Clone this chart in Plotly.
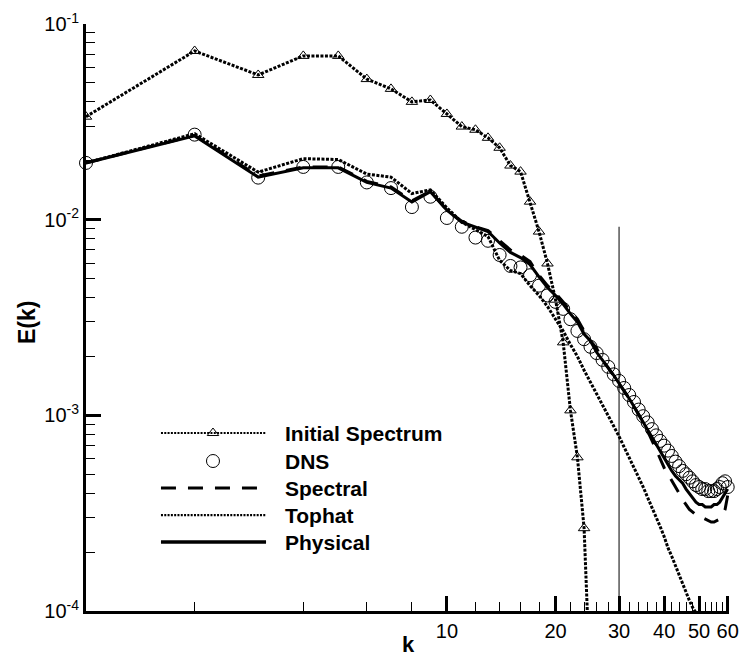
import numpy as np
import plotly.graph_objects as go

# ---------------- data ----------------
k_init = list(range(1, 26))
E_init = [0.0336, 0.0728, 0.0549, 0.0687, 0.0687, 0.0523, 0.0466, 0.0400, 0.0409, 0.0347,
          0.0299, 0.0288, 0.0262, 0.0233, 0.0189, 0.0176, 0.01236, 0.00869, 0.00597, 0.0039,
          0.00236, 0.00106, 0.00061, 0.000265, 0.000038]

k_dns = list(range(1, 62))
E_dns = [0.0195, 0.0272, 0.0164, 0.0186, 0.0186, 0.0155, 0.0145, 0.0116, 0.0131, 0.0102,
         0.0092, 0.0081, 0.0078, 0.0066, 0.0058, 0.0057, 0.0052, 0.0046, 0.0041, 0.0038,
         0.0035, 0.0031, 0.0027, 0.00245, 0.00224, 0.00208, 0.00192, 0.00177, 0.00162, 0.00150,
         0.00138, 0.00127, 0.00117, 0.00107, 0.00099, 0.00092, 0.00085, 0.00079, 0.00074, 0.00070,
         0.00066, 0.00062, 0.00058, 0.00055, 0.00052, 0.00050, 0.00048, 0.00046, 0.00044, 0.00043,
         0.00042, 0.00042, 0.00041, 0.00041, 0.00041, 0.00042, 0.00043, 0.00045, 0.00046, 0.00043,
         0.00038]

k_model = list(range(1, 61))
E_spectral = [0.0195, 0.0270, 0.0167, 0.0186, 0.0186, 0.0157, 0.0147, 0.0125, 0.0140, 0.0112,
              0.0098, 0.0092, 0.0088, 0.0078, 0.0070, 0.0066, 0.0061, 0.0052, 0.0046, 0.0042,
              0.0038, 0.0034, 0.0031, 0.0027, 0.0024, 0.0022, 0.0019, 0.00175, 0.0016, 0.00146,
              0.00133, 0.00122, 0.00111, 0.00101, 0.00092, 0.00083, 0.00075, 0.00067, 0.00060, 0.00054,
              0.00050, 0.00046, 0.00043, 0.00040, 0.00037, 0.00035, 0.00033, 0.00032, 0.00031, 0.00030,
              0.000300, 0.000295, 0.00029, 0.000285, 0.000285, 0.00029, 0.000295, 0.00031, 0.00033, 0.00039]

E_tophat = [0.0195, 0.0275, 0.0175, 0.0205, 0.0203, 0.0171, 0.0165, 0.0136, 0.0142, 0.0115,
            0.0097, 0.0089, 0.0082, 0.0062, 0.0055, 0.0053, 0.0046, 0.0041, 0.0036, 0.0031,
            0.0027, 0.0023, 0.0020, 0.00170, 0.00148, 0.00128, 0.00112, 0.00099, 0.00088, 0.00078,
            0.00069, 0.00061, 0.00054, 0.00048, 0.00043, 0.00038, 0.00034, 0.00030, 0.00027, 0.00024,
            0.00021, 0.00019, 0.00017, 0.000155, 0.00014, 0.000125, 0.000113, 0.000104, 0.000098, 0.000090,
            0.000082, 0.000075, 0.000068, 0.000062, 0.000056, 0.000051, 0.000046, 0.000042, 0.000038, 0.000034]

E_physical = [0.0195, 0.0268, 0.0165, 0.0184, 0.0184, 0.0155, 0.0145, 0.0123, 0.0139, 0.0112,
              0.0097, 0.0092, 0.0087, 0.0076, 0.0068, 0.0064, 0.0059, 0.0051, 0.0045, 0.0041,
              0.0037, 0.0033, 0.0030, 0.0026, 0.0024, 0.0021, 0.0019, 0.00175, 0.0016, 0.00146,
              0.00133, 0.00122, 0.00111, 0.00101, 0.00093, 0.00085, 0.00078, 0.00071, 0.00065, 0.00060,
              0.00056, 0.00052, 0.00049, 0.00047, 0.00045, 0.00042, 0.00040, 0.00038, 0.00036, 0.00035,
              0.00035, 0.00034, 0.00034, 0.00034, 0.00035, 0.00035, 0.00036, 0.00038, 0.00040, 0.00042]

cutoff_k = [30, 30]
cutoff_E = [1e-4, 0.0092]

x_tick_vals = [10, 20, 30, 40, 50, 60]
x_tick_text = ["10", "20", "30", "40", "50", "60"]
x_minor_vals = [2, 4, 6, 8, 12, 14, 16, 18, 22, 24, 26, 28, 32, 34, 36, 38,
                42, 44, 46, 48, 52, 54, 56, 58]
y_tick_vals = [1e-4, 1e-3, 1e-2, 1e-1]
y_tick_text = ["10<sup>-4</sup>", "10<sup>-3</sup>", "10<sup>-2</sup>", "10<sup>-1</sup>"]
y_minor_vals = [m * 10.0 ** e for e in (-4, -3, -2) for m in range(2, 10)]

legend_names = ["Initial Spectrum", "DNS", "Spectral", "Tophat", "Physical"]

# ---------------- styles ----------------
FONT = "Liberation Sans, Arial, sans-serif"
DOT = "3px,1.5px"
LDOT = "2px,1.3px"
DASH = "15px,12px"

fig = go.Figure()

fig.add_trace(go.Scatter(x=cutoff_k, y=cutoff_E, mode="lines",
                         line=dict(color="black", width=1), showlegend=False))
fig.add_trace(go.Scatter(x=k_model, y=E_tophat, mode="lines",
                         line=dict(color="black", width=3, dash=DOT), showlegend=False))
fig.add_trace(go.Scatter(x=k_model, y=E_spectral, mode="lines",
                         line=dict(color="black", width=3, dash=DASH), showlegend=False))
fig.add_trace(go.Scatter(x=k_model, y=E_physical, mode="lines",
                         line=dict(color="black", width=3), showlegend=False))
fig.add_trace(go.Scatter(x=k_dns, y=E_dns, mode="markers", cliponaxis=False,
                         marker=dict(symbol="circle-open", size=13, color="black",
                                     line=dict(width=1, color="black")),
                         showlegend=False))
fig.add_trace(go.Scatter(x=k_init, y=E_init, mode="lines+markers",
                         line=dict(color="black", width=3, dash=DOT),
                         marker=dict(symbol="triangle-up-open", size=10, color="black",
                                     line=dict(width=1, color="black")),
                         showlegend=False))

# ---------------- custom legend (overlay axes in [0,1]) ----------------
lx0, lx1, lmid, ltext = 0.1166, 0.280, 0.1975, 0.3064
rows = [0.3032, 0.2555, 0.2095, 0.1635, 0.1175]
fig.add_trace(go.Scatter(x=[lx0, lx1], y=[rows[0]] * 2, xaxis="x2", yaxis="y2", mode="lines",
                         line=dict(color="black", width=2.2, dash=LDOT), showlegend=False))
fig.add_trace(go.Scatter(x=[lmid], y=[rows[0]], xaxis="x2", yaxis="y2", mode="markers",
                         marker=dict(symbol="triangle-up-open", size=10, color="black",
                                     line=dict(width=1, color="black")), showlegend=False))
fig.add_trace(go.Scatter(x=[lmid], y=[rows[1]], xaxis="x2", yaxis="y2", mode="markers",
                         marker=dict(symbol="circle-open", size=13, color="black",
                                     line=dict(width=1, color="black")), showlegend=False))
fig.add_trace(go.Scatter(x=[lx0, lx1], y=[rows[2]] * 2, xaxis="x2", yaxis="y2", mode="lines",
                         line=dict(color="black", width=3, dash=DASH), showlegend=False))
fig.add_trace(go.Scatter(x=[lx0, lx1], y=[rows[3]] * 2, xaxis="x2", yaxis="y2", mode="lines",
                         line=dict(color="black", width=2.2, dash=LDOT), showlegend=False))
fig.add_trace(go.Scatter(x=[lx0, lx1], y=[rows[4]] * 2, xaxis="x2", yaxis="y2", mode="lines",
                         line=dict(color="black", width=3.5), showlegend=False))

annotations = []
for name, ry in zip(legend_names, rows):
    annotations.append(dict(x=ltext, y=ry, xref="paper", yref="paper", text="<b>%s</b>" % name,
                            showarrow=False, xanchor="left", yanchor="middle",
                            font=dict(family=FONT, size=21, color="black")))
annotations.append(dict(x=0.502, y=-0.0818, xref="paper", yref="paper", text="<b>k</b>",
                        showarrow=False, xanchor="center", yanchor="bottom",
                        font=dict(family=FONT, size=22, color="black")))
annotations.append(dict(x=-0.092, y=0.492, xref="paper", yref="paper", text="<b>E(k)</b>",
                        showarrow=False, xanchor="center", yanchor="middle", textangle=-90,
                        font=dict(family=FONT, size=23, color="black")))

fig.update_layout(
    width=740, height=661,
    margin=dict(l=86, r=11, t=24, b=50, autoexpand=False),
    paper_bgcolor="white", plot_bgcolor="white",
    font=dict(family=FONT, color="black"),
    showlegend=False,
    annotations=annotations,
    xaxis=dict(type="log", range=[0, np.log10(60.5)], showgrid=False, zeroline=False,
               automargin=False,
               showline=True, linecolor="black", linewidth=3,
               ticks="inside", ticklen=15, tickwidth=2.5, tickcolor="black",
               tickmode="array", tickvals=x_tick_vals, ticktext=x_tick_text,
               tickfont=dict(family=FONT, size=20, color="black"),
               minor=dict(ticks="inside", ticklen=9, tickwidth=1, tickcolor="black",
                          tickmode="array", tickvals=x_minor_vals, showgrid=False)),
    yaxis=dict(type="log", range=[-4, -1], showgrid=False, zeroline=False,
               automargin=False,
               showline=True, linecolor="black", linewidth=3,
               ticks="inside", ticklen=15, tickwidth=2.5, tickcolor="black",
               tickmode="array", tickvals=y_tick_vals, ticktext=y_tick_text,
               tickfont=dict(family=FONT, size=20, color="black"),
               minor=dict(ticks="inside", ticklen=9, tickwidth=1, tickcolor="black",
                          tickmode="array", tickvals=y_minor_vals, showgrid=False)),
    xaxis2=dict(domain=[0, 1], range=[0, 1], overlaying="x", anchor="y2", visible=False),
    yaxis2=dict(domain=[0, 1], range=[0, 1], overlaying="y", anchor="x2", visible=False),
)

fig.write_html("out.html", config={"displayModeBar": False},
               post_script="document.body.style.margin='0';document.body.style.overflow='hidden';")
